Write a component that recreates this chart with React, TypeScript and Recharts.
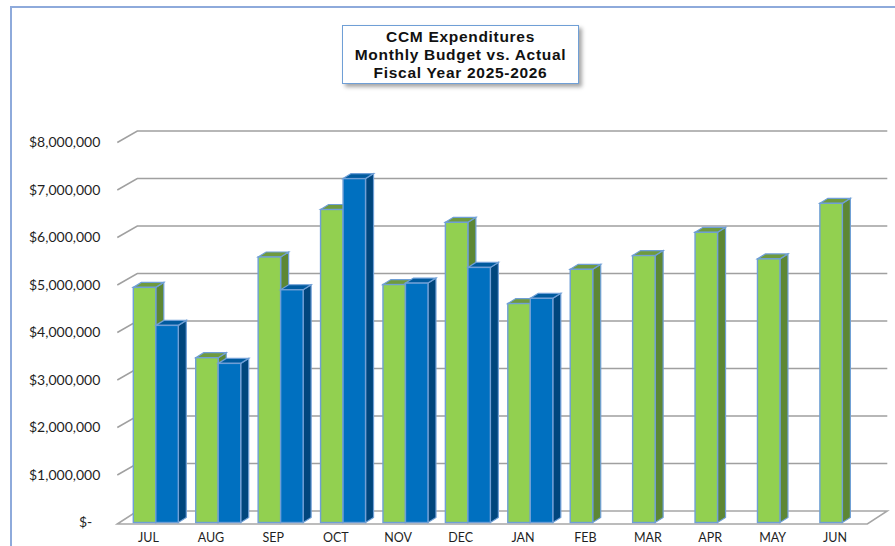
import React from "react";
import { BarChart, Bar, XAxis, YAxis, CartesianGrid } from "recharts";

const months = ["JUL", "AUG", "SEP", "OCT", "NOV", "DEC", "JAN", "FEB", "MAR", "APR", "MAY", "JUN"];
const budget = [4950000, 3470000, 5590000, 6590000, 5010000, 6320000, 4610000, 5330000, 5620000, 6110000, 5550000, 6720000];
const actual = [4150000, 3350000, 4900000, 7240000, 5040000, 5370000, 4720000, null, null, null, null, null];
const yTicks = [0, 1000000, 2000000, 3000000, 4000000, 5000000, 6000000, 7000000, 8000000];
const titleLines = ["CCM Expenditures", "Monthly Budget vs. Actual", "Fiscal Year 2025-2026"];

const chartData = months.map((m, i) => ({
  month: m,
  Budget: budget[i],
  Actual: actual[i],
}));

// depth of the fake 3d effect
const DX = 8;
const DY = 5;
const EDGE = "#6f9fd6";

const formatMoney = (v: number) => (v === 0 ? "$-" : "$" + v.toLocaleString("en-US"));

const make3dBar = (front: string, top: string, side: string) => (props: any) => {
  const { x, y, width, height } = props;
  if (height == null || height <= 0) return null;
  return (
    <g>
      <polygon
        points={`${x + width},${y} ${x + width + DX},${y - DY} ${x + width + DX},${y + height - DY} ${x + width},${y + height}`}
        fill={side}
        stroke={EDGE}
        strokeWidth={1.2}
      />
      <polygon
        points={`${x},${y} ${x + DX},${y - DY} ${x + width + DX},${y - DY} ${x + width},${y}`}
        fill={top}
        stroke={EDGE}
        strokeWidth={1.2}
      />
      <rect x={x} y={y} width={width} height={height} fill={front} stroke={EDGE} strokeWidth={1.4} />
    </g>
  );
};

const gridLine = (props: any) => {
  const { x1, x2, y1, horizontalPoints, index } = props;
  const pts: number[] | undefined = horizontalPoints;
  const isFloor = pts && pts.length ? y1 >= Math.max(...pts) - 0.5 : index === 0;
  const back = y1 - 11.5;
  if (isFloor) {
    return (
      <polygon
        key={props.key}
        points={`${x1 - 7},${y1 + 1.5} ${x1 + 13},${back} ${x2 + 14},${back} ${x2 - 6},${y1 + 1.5}`}
        fill="#ffffff"
        stroke="#a6a6a6"
        strokeWidth={1.5}
      />
    );
  }
  return (
    <polyline
      key={props.key}
      points={`${x1 - 7},${y1} ${x1 + 13},${back} ${x2 + 14},${back}`}
      fill="none"
      stroke="#a0a0a0"
      strokeWidth={1.5}
    />
  );
};

const YTick = (props: any) => {
  const { x, y, payload } = props;
  const v = payload.value;
  return (
    <text x={v === 0 ? x - 8 : x} y={y} dy={4.5} textAnchor="end" fontSize={14} fill="#1f1f1f">
      {formatMoney(v)}
    </text>
  );
};

export default function App() {
  return (
    <div
      style={{
        position: "absolute",
        left: 0,
        top: 0,
        width: 895,
        height: 546,
        background: "#fff",
        fontFamily: "Lato, 'Open Sans', sans-serif",
        overflow: "hidden",
      }}
    >
      <div
        style={{
          position: "absolute",
          left: 10,
          top: 6,
          width: 885,
          height: 540,
          borderTop: "2px solid #8eaadb",
          borderLeft: "2px solid #8eaadb",
        }}
      />
      <BarChart
        width={895}
        height={546}
        data={chartData}
        margin={{ top: 142.5, right: 21.7, bottom: 0, left: 0 }}
        barSize={22.5}
        barGap={0}
      >
        <CartesianGrid vertical={false} horizontal={gridLine} />
        <XAxis
          dataKey="month"
          axisLine={false}
          tickLine={false}
          tickSize={0}
          tickMargin={11}
          height={23.5}
          tick={{ fontSize: 12.5, fill: "#1f1f1f", dx: -7 }}
          interval={0}
        />
        <YAxis
          width={124.3}
          domain={[0, 8000000]}
          ticks={yTicks}
          axisLine={false}
          tickLine={false}
          tickSize={0}
          tickMargin={24}
          tick={<YTick />}
        />
        <Bar dataKey="Budget" isAnimationActive={false} shape={make3dBar("#92d050", "#6f9a3e", "#5d8734")} />
        <Bar dataKey="Actual" isAnimationActive={false} shape={make3dBar("#0070c0", "#005a9e", "#00467d")} />
      </BarChart>
      <div
        style={{
          position: "absolute",
          left: 342,
          top: 25,
          width: 237,
          height: 59,
          border: "1.5px solid #6f9fd6",
          background: "#fff",
          boxShadow: "3px 3px 4px rgba(0,0,0,0.35)",
          boxSizing: "border-box",
          display: "flex",
          flexDirection: "column",
          justifyContent: "center",
          alignItems: "center",
          fontFamily: "'Liberation Sans', Arial, sans-serif",
          fontWeight: 700,
          fontSize: 15.5,
          letterSpacing: 0.7,
          lineHeight: "18px",
          color: "#111",
          whiteSpace: "nowrap",
        }}
      >
        {titleLines.map((t) => (
          <div key={t}>{t}</div>
        ))}
      </div>
    </div>
  );
}
